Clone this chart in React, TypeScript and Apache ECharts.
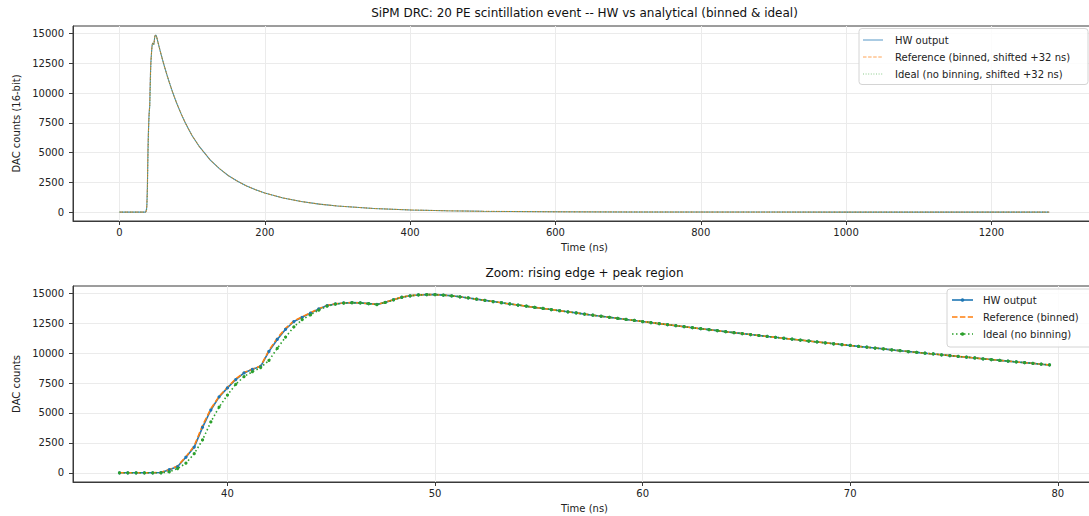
import React, { useEffect, useRef } from "react";
import * as echarts from "echarts";

const FONT = "'DejaVu Sans', Verdana, sans-serif";

// ---- Data ----
// zoom window samples (ns)
const zoomTime = [
  34.8, 35.2, 35.6, 36.0, 36.4, 36.8, 37.2, 37.6, 38.0, 38.4,
  38.8, 39.2, 39.6, 40.0, 40.4, 40.8, 41.2, 41.6, 42.0, 42.4,
  42.8, 43.2, 43.6, 44.0, 44.4, 44.8, 45.2, 45.6, 46.0, 46.4,
  46.8, 47.2, 47.6, 48.0, 48.4, 48.8, 49.2, 49.6, 50.0, 50.4,
  50.8, 51.2, 51.6, 52.0, 52.4, 52.8, 53.2, 53.6, 54.0, 54.4,
  54.8, 55.2, 55.6, 56.0, 56.4, 56.8, 57.2, 57.6, 58.0, 58.4,
  58.8, 59.2, 59.6, 60.0, 60.4, 60.8, 61.2, 61.6, 62.0, 62.4,
  62.8, 63.2, 63.6, 64.0, 64.4, 64.8, 65.2, 65.6, 66.0, 66.4,
  66.8, 67.2, 67.6, 68.0, 68.4, 68.8, 69.2, 69.6, 70.0, 70.4,
  70.8, 71.2, 71.6, 72.0, 72.4, 72.8, 73.2, 73.6, 74.0, 74.4,
  74.8, 75.2, 75.6, 76.0, 76.4, 76.8, 77.2, 77.6, 78.0, 78.4,
  78.8, 79.2, 79.6,
];

const hwZoom = [
  0, 0, 0, 0, 0, 20, 260, 520, 1300, 2150,
  3800, 5250, 6350, 7100, 7800, 8350, 8650, 8900, 10150, 11150,
  12000, 12650, 13000, 13350, 13700, 13980, 14120, 14200, 14230, 14210,
  14150, 14080, 14250, 14470, 14680, 14800, 14870, 14900, 14900, 14860,
  14800, 14720, 14620, 14520, 14420, 14320, 14220, 14120, 14030, 13930,
  13830, 13740, 13650, 13550, 13460, 13370, 13270, 13180, 13090, 13000,
  12910, 12820, 12740, 12650, 12560, 12470, 12390, 12300, 12220, 12130,
  12050, 11970, 11890, 11800, 11720, 11640, 11560, 11480, 11400, 11330,
  11250, 11170, 11100, 11020, 10940, 10870, 10790, 10720, 10650, 10570,
  10500, 10430, 10360, 10280, 10210, 10140, 10070, 10000, 9940, 9870,
  9800, 9730, 9670, 9600, 9530, 9470, 9400, 9340, 9270, 9210,
  9150, 9080, 9020,
];

const refZoom = [
  0, 0, 0, 0, 0, 40, 280, 560, 1350, 2250,
  3950, 5350, 6400, 7150, 7850, 8380, 8680, 8920, 10250, 11250,
  12080, 12700, 13050, 13380, 13720, 14000, 14130, 14200, 14230, 14200,
  14140, 14080, 14260, 14480, 14690, 14810, 14880, 14900, 14900, 14860,
  14800, 14720, 14620, 14520, 14420, 14320, 14220, 14120, 14030, 13930,
  13830, 13740, 13650, 13550, 13460, 13370, 13270, 13180, 13090, 13000,
  12910, 12820, 12740, 12650, 12560, 12470, 12390, 12300, 12220, 12130,
  12050, 11970, 11890, 11800, 11720, 11640, 11560, 11480, 11400, 11330,
  11250, 11170, 11100, 11020, 10940, 10870, 10790, 10720, 10650, 10570,
  10500, 10430, 10360, 10280, 10210, 10140, 10070, 10000, 9940, 9870,
  9800, 9730, 9670, 9600, 9530, 9470, 9400, 9340, 9270, 9210,
  9150, 9080, 9020,
];

const idealZoom = [
  0, 0, 0, 0, 0, 0, 80, 350, 800, 1600,
  2750, 4250, 5500, 6500, 7400, 8050, 8450, 8800, 9400, 10400,
  11350, 12200, 12800, 13200, 13600, 13930, 14100, 14190, 14220, 14200,
  14140, 14070, 14240, 14460, 14670, 14800, 14870, 14900, 14900, 14860,
  14800, 14720, 14620, 14520, 14420, 14320, 14220, 14120, 14030, 13930,
  13830, 13740, 13650, 13550, 13460, 13370, 13270, 13180, 13090, 13000,
  12910, 12820, 12740, 12650, 12560, 12470, 12390, 12300, 12220, 12130,
  12050, 11970, 11890, 11800, 11720, 11640, 11560, 11480, 11400, 11330,
  11250, 11170, 11100, 11020, 10940, 10870, 10790, 10720, 10650, 10570,
  10500, 10430, 10360, 10280, 10210, 10140, 10070, 10000, 9940, 9870,
  9800, 9730, 9670, 9600, 9530, 9470, 9400, 9340, 9270, 9210,
  9150, 9080, 9020,
];

// before the pulse (ns, counts)
const preTime = [0, 20];
const preValue = [0, 0];

// decay tail of the full event (ns, counts)
const tailTime = [85, 90, 95, 100, 110, 125, 137.5, 150, 162.5, 175, 187.5, 200, 225, 250, 275, 300, 350, 400, 450, 500, 600, 700, 800, 900, 1000, 1100, 1279.6];
const tailValue = [8240, 7580, 6980, 6420, 5500, 4370, 3660, 3060, 2590, 2190, 1870, 1600, 1190, 890, 670, 510, 300, 180, 108, 65, 24, 9, 3, 1, 0, 0, 0];

// tick labels
const xTicksTop = [0, 200, 400, 600, 800, 1000, 1200];
const xTicksZoom = [40, 50, 60, 70, 80];
const yTicks = [0, 2500, 5000, 7500, 10000, 12500, 15000];

const TITLE_TOP = "SiPM DRC: 20 PE scintillation event -- HW vs analytical (binned & ideal)";
const TITLE_ZOOM = "Zoom: rising edge + peak region";
const LEGEND_TOP = ["HW output", "Reference (binned, shifted +32 ns)", "Ideal (no binning, shifted +32 ns)"];
const LEGEND_ZOOM = ["HW output", "Reference (binned)", "Ideal (no binning)"];

const C_BLUE = "#1f77b4";
const C_ORANGE = "#ff7f0e";
const C_GREEN = "#2ca02c";

function pairs(t: number[], v: number[]): number[][] {
  const n = Math.min(t.length, v.length);
  const out: number[][] = [];
  for (let i = 0; i < n; i++) out.push([t[i], v[i]]);
  return out;
}

function fullEvent(zoomVals: number[]): number[][] {
  return [...pairs(preTime, preValue), ...pairs(zoomTime, zoomVals), ...pairs(tailTime, tailValue)];
}

const AX = "#3a3a3a";

function xAxisCfg(gridIndex: number, min: number, max: number, ticks: number[]) {
  return {
    type: "value",
    gridIndex,
    min,
    max,
    name: "Time (ns)",
    nameLocation: "middle",
    nameGap: 21,
    nameTextStyle: { color: "#222", fontSize: 10, fontFamily: FONT },
    axisLine: { show: true, onZero: false, lineStyle: { color: AX, width: 1 } },
    axisTick: { show: true, inside: false, length: 4, customValues: ticks, lineStyle: { color: AX, width: 1 } },
    axisLabel: {
      show: true,
      margin: 6,
      customValues: ticks,
      color: "#222",
      fontSize: 10,
      fontFamily: FONT,
      formatter: (v: number) => String(v),
    },
    splitLine: { show: true, lineStyle: { color: "#ebebeb", width: 1 } },
  };
}

function yAxisCfg(gridIndex: number, min: number, max: number, name: string) {
  return {
    type: "value",
    gridIndex,
    min,
    max,
    name,
    nameLocation: "middle",
    nameGap: 50,
    nameTextStyle: { color: "#222", fontSize: 10, fontFamily: FONT },
    axisLine: { show: true, onZero: false, lineStyle: { color: AX, width: 1 } },
    axisTick: { show: true, inside: false, length: 4, customValues: yTicks, lineStyle: { color: AX, width: 1 } },
    axisLabel: {
      show: true,
      margin: 9,
      customValues: yTicks,
      color: "#222",
      fontSize: 10,
      fontFamily: FONT,
      formatter: (v: number) => String(v),
    },
    splitLine: { show: true, lineStyle: { color: "#ebebeb", width: 1 } },
  };
}

type LegItem = { label: string; color: string; dash: number[] | null; width: number; opacity: number; dot: boolean };

function legendGraphic(
  x: number, y: number, w: number, h: number,
  items: LegItem[], lineX0: number, lineX1: number, textX: number, rowY0: number, rowGap: number
) {
  const children: any[] = [
    {
      type: "rect",
      z: 100,
      shape: { x, y, width: w, height: h, r: 3 },
      style: { fill: "rgba(255,255,255,0.85)", stroke: "#d4d4d4", lineWidth: 1 },
    },
  ];
  items.forEach((it, i) => {
    const cy = rowY0 + i * rowGap;
    children.push({
      type: "line",
      z: 101,
      shape: { x1: lineX0, y1: cy, x2: lineX1, y2: cy },
      style: { stroke: it.color, lineWidth: it.width, lineDash: it.dash || undefined, opacity: it.opacity },
    });
    if (it.dot) {
      children.push({
        type: "circle",
        z: 102,
        shape: { cx: (lineX0 + lineX1) / 2, cy, r: 1.8 },
        style: { fill: it.color, opacity: it.opacity },
      });
    }
    children.push({
      type: "text",
      z: 102,
      x: textX,
      y: cy,
      style: { text: it.label, fontSize: 10, fontFamily: FONT, fill: "#222", align: "left", verticalAlign: "middle" },
    });
  });
  return children;
}

export default function App() {
  const ref = useRef<HTMLDivElement>(null);

  useEffect(() => {
    document.body.style.margin = "0";
    if (!ref.current) return;
    const chart = echarts.init(ref.current, null, { renderer: "svg" });

    const topItems: LegItem[] = [
      { label: LEGEND_TOP[0], color: C_BLUE, dash: null, width: 1, opacity: 0.75, dot: false },
      { label: LEGEND_TOP[1], color: C_ORANGE, dash: [3.5, 1.6], width: 1, opacity: 0.7, dot: false },
      { label: LEGEND_TOP[2], color: C_GREEN, dash: [1, 1.6], width: 1, opacity: 0.55, dot: false },
    ];
    const zoomItems: LegItem[] = [
      { label: LEGEND_ZOOM[0], color: C_BLUE, dash: null, width: 1.6, opacity: 1, dot: true },
      { label: LEGEND_ZOOM[1], color: C_ORANGE, dash: [5.5, 2.4], width: 1.6, opacity: 1, dot: false },
      { label: LEGEND_ZOOM[2], color: C_GREEN, dash: [1.5, 2.5], width: 1.6, opacity: 1, dot: true },
    ];

    const option: any = {
      animation: false,
      backgroundColor: "#ffffff",
      textStyle: { fontFamily: FONT },
      grid: [
        { left: 73, top: 26, right: -7, height: 195, show: true, borderColor: AX, borderWidth: 1, backgroundColor: "transparent", outerBoundsMode: "none", containLabel: false },
        { left: 73, top: 286, right: -7, height: 196, show: true, borderColor: AX, borderWidth: 1, backgroundColor: "transparent", outerBoundsMode: "none", containLabel: false },
      ],
      xAxis: [xAxisCfg(0, -64, 1344, xTicksTop), xAxisCfg(1, 32.56, 81.84, xTicksZoom)],
      yAxis: [yAxisCfg(0, -750, 15650, "DAC counts (16-bit)"), yAxisCfg(1, -770, 15620, "DAC counts")],
      series: [
        {
          name: LEGEND_TOP[0], type: "line", xAxisIndex: 0, yAxisIndex: 0, data: fullEvent(hwZoom),
          symbol: "none", silent: true, lineStyle: { color: C_BLUE, width: 1.1, opacity: 0.8 }, itemStyle: { color: C_BLUE },
        },
        {
          name: LEGEND_TOP[1], type: "line", xAxisIndex: 0, yAxisIndex: 0, data: fullEvent(refZoom),
          symbol: "none", silent: true, lineStyle: { color: C_ORANGE, width: 1, type: [3.5, 1.6], opacity: 0.75 }, itemStyle: { color: C_ORANGE },
        },
        {
          name: LEGEND_TOP[2], type: "line", xAxisIndex: 0, yAxisIndex: 0, data: fullEvent(idealZoom),
          symbol: "none", silent: true, lineStyle: { color: C_GREEN, width: 1, type: [1, 1.6], opacity: 0.6 }, itemStyle: { color: C_GREEN },
        },
        {
          name: LEGEND_ZOOM[0], type: "line", xAxisIndex: 1, yAxisIndex: 1, data: pairs(zoomTime, hwZoom),
          symbol: "circle", symbolSize: 3.2, showSymbol: true, silent: true,
          lineStyle: { color: C_BLUE, width: 1.6 }, itemStyle: { color: C_BLUE, borderWidth: 0 },
        },
        {
          name: LEGEND_ZOOM[1], type: "line", xAxisIndex: 1, yAxisIndex: 1, data: pairs(zoomTime, refZoom),
          symbol: "none", silent: true, lineStyle: { color: C_ORANGE, width: 1.6, type: [5.5, 2.4] }, itemStyle: { color: C_ORANGE },
        },
        {
          name: LEGEND_ZOOM[2], type: "line", xAxisIndex: 1, yAxisIndex: 1, data: pairs(zoomTime, idealZoom),
          symbol: "circle", symbolSize: 3.2, showSymbol: true, silent: true,
          lineStyle: { color: C_GREEN, width: 1.6, type: [1.5, 2.5] }, itemStyle: { color: C_GREEN, borderWidth: 0 },
        },
      ],
      graphic: [
        {
          type: "text", z: 100, x: 584.5, y: 13,
          style: { text: TITLE_TOP, fontSize: 12, fontFamily: FONT, fill: "#111", align: "center", verticalAlign: "middle" },
        },
        {
          type: "text", z: 100, x: 584.5, y: 273,
          style: { text: TITLE_ZOOM, fontSize: 12, fontFamily: FONT, fill: "#111", align: "center", verticalAlign: "middle" },
        },
        ...legendGraphic(859, 28.5, 229, 56, topItems, 863, 883, 895, 40, 17),
        ...legendGraphic(947, 289, 150, 58, zoomItems, 952, 973, 983, 300, 17),
      ],
    };

    chart.setOption(option);
    return () => chart.dispose();
  }, []);

  return <div ref={ref} style={{ width: 1089, height: 516 }} />;
}
